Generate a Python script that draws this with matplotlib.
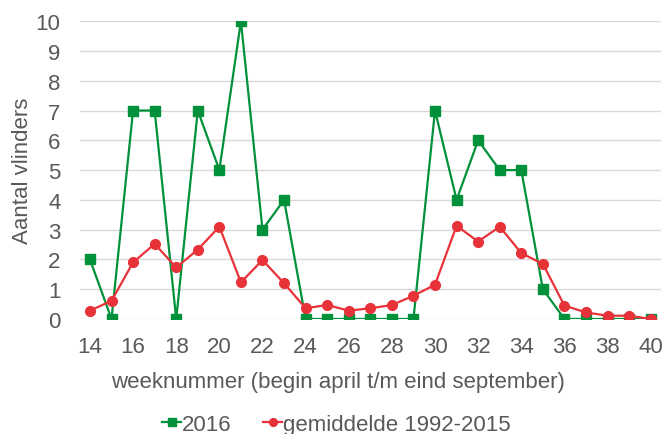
import matplotlib
matplotlib.use("Agg")
import matplotlib.pyplot as plt

weeks = list(range(14, 41))
y2016 = [2, 0, 7, 7, 0, 7, 5, 10, 3, 4, 0, 0, 0, 0, 0, 0, 7, 4, 6, 5, 5, 1, 0, 0, 0, 0, 0]
gemiddelde = [0.28, 0.61, 1.9, 2.52, 1.73, 2.33, 3.1, 1.23, 1.98, 1.2, 0.36, 0.47, 0.28,
              0.36, 0.47, 0.78, 1.15, 3.13, 2.6, 3.1, 2.21, 1.85, 0.45, 0.22, 0.11, 0.11, 0.0]
xticks = list(range(14, 41, 2))
yticks = list(range(0, 11))

plt.rcParams['font.family'] = ['Liberation Sans', 'DejaVu Sans']
green = '#00913A'
red = '#E8323A'
txt = '#595959'

fig = plt.figure(figsize=(6.63, 4.35), dpi=100)
ax = fig.add_axes([0.1207, 0.2644, 0.877, 0.6846])
ax.plot(weeks, y2016, color=green, lw=1.6, marker='s', ms=7.2, label='2016', zorder=3)
ax.plot(weeks, gemiddelde, color=red, lw=1.6, marker='o', ms=7, label='gemiddelde 1992-2015', zorder=4)

ax.set_xlim(13.54, 40.5)
ax.set_ylim(0, 10)
ax.set_xticks(xticks)
ax.set_yticks(yticks)
ax.grid(axis='y', color='#D9D9D9', lw=1)
ax.set_axisbelow(True)
for s in ax.spines.values():
    s.set_visible(False)
ax.tick_params(length=0, labelsize=16, colors=txt)
ax.tick_params(axis='y', pad=14)
ax.tick_params(axis='x', pad=12)
ax.set_xlabel('weeknummer (begin april t/m eind september)', fontsize=16, color=txt, labelpad=10)
ax.xaxis.label.set_x(0.444)
ax.set_ylabel('Aantal vlinders', fontsize=16, color=txt, labelpad=2)

leg = fig.legend(loc='center', bbox_to_anchor=(0.5076, 0.022), ncol=2, frameon=False,
                 fontsize=16, handlelength=0.85, handletextpad=0.05, columnspacing=1.4,
                 labelcolor=txt, markerscale=0.8)
fig.savefig('out.png', dpi=100)
